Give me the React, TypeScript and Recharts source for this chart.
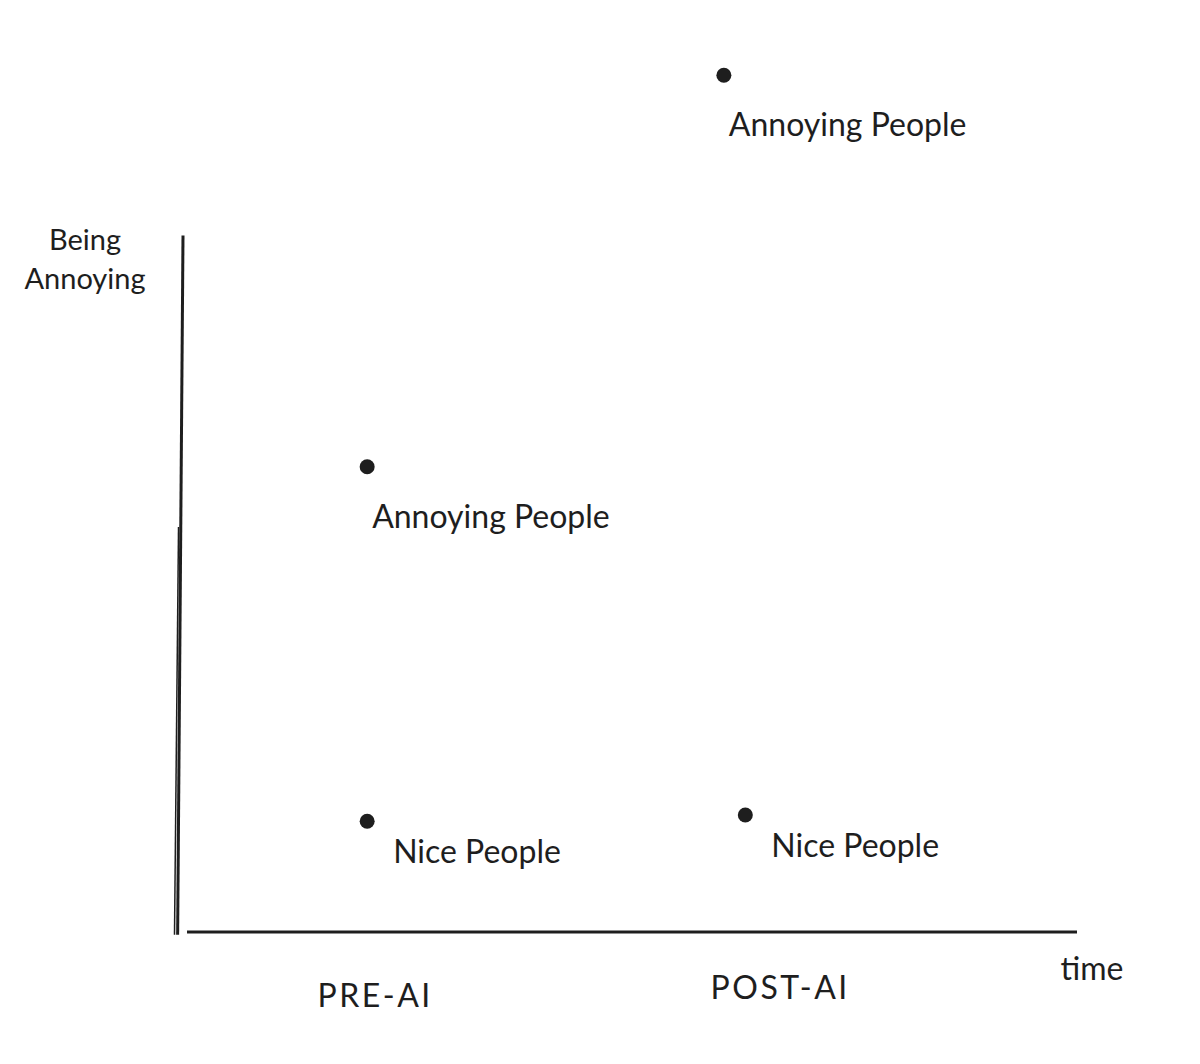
import React from "react";
import { ReferenceLine, Scatter, ScatterChart, XAxis, YAxis, LabelList } from "recharts";

// x: time (0-100), y: how annoying (0-100)
const phases = ["PRE-AI", "POST-AI"];
const phaseTickX = [21.5, 66.8];
const annoyingPeople = [
  { phase: "PRE-AI", x: 20.6, y: 51.7 },
  { phase: "POST-AI", x: 60.5, y: 95.2 },
];
const nicePeople = [
  { phase: "PRE-AI", x: 20.6, y: 12.3 },
  { phase: "POST-AI", x: 62.9, y: 13.0 },
];
const yAxisTop = 77.4;

const INK = "#1e1e1e";
const FONT = "Lato, 'Open Sans', sans-serif";

const Dot = (props: any) => <circle cx={props.cx} cy={props.cy} r={7.5} fill={INK} />;

const makeLabel = (text: string, dx: number, dy: number) => (props: any) => {
  const { x, y, width, height } = props;
  const cx = Number(x) + Number(width || 0) / 2;
  const cy = Number(y) + Number(height || 0) / 2;
  return (
    <text x={cx + dx} y={cy + dy} fill={INK} fontFamily={FONT} fontSize={32} dominantBaseline="middle">
      {text}
    </text>
  );
};

const PhaseTick = (props: any) => {
  const { x, y, payload } = props;
  const i = phaseTickX.indexOf(payload.value);
  return (
    <text
      x={x}
      y={y + 67 - (i === 1 ? 8 : 0)}
      textAnchor="middle"
      fill={INK}
      fontFamily={FONT}
      fontSize={32}
      letterSpacing={2.5}
    >
      {phases[i]}
    </text>
  );
};

const App = () => {
  return (
    <div style={{ position: "absolute", left: 0, top: 0, background: "#fff" }}>
      <ScatterChart width={1200} height={1064} margin={{ top: 32, right: 123, left: 0, bottom: 62 }}>
        <XAxis
          type="number"
          dataKey="x"
          domain={[0, 100]}
          ticks={phaseTickX}
          tick={<PhaseTick />}
          tickLine={false}
          axisLine={false}
          height={70}
          label={(p: any) => {
            const vb = p.viewBox;
            return (
              <text x={vb.x + vb.width + 15} y={vb.y + 48} textAnchor="middle" fill={INK} fontFamily={FONT} fontSize={32}>
                time
              </text>
            );
          }}
        />
        <YAxis
          type="number"
          dataKey="y"
          domain={[0, 100]}
          width={183}
          tick={false}
          tickLine={false}
          axisLine={false}
          label={(p: any) => {
            const vb = p.viewBox;
            return (
              <text x={vb.x + 85} fill={INK} fontFamily={FONT} fontSize={29} textAnchor="middle">
                <tspan x={vb.x + 85} y={vb.y + 218}>Being</tspan>
                <tspan x={vb.x + 85} y={vb.y + 257}>Annoying</tspan>
              </text>
            );
          }}
        />
        <ReferenceLine
          segment={[{ x: 0, y: yAxisTop }, { x: -0.6, y: -0.3 }]}
          stroke={INK}
          strokeWidth={3}
          ifOverflow="visible"
        />
        <ReferenceLine
          segment={[{ x: -0.95, y: -0.3 }, { x: -0.5, y: 45 }]}
          stroke={INK}
          strokeWidth={1.5}
          ifOverflow="visible"
        />
        <ReferenceLine
          segment={[{ x: 0.45, y: 0 }, { x: 100, y: 0 }]}
          stroke={INK}
          strokeWidth={3}
          ifOverflow="visible"
        />
        <Scatter name="Annoying People" data={annoyingPeople} fill={INK} shape={Dot} isAnimationActive={false}>
          <LabelList dataKey="phase" content={makeLabel("Annoying People", 5, 53)} />
        </Scatter>
        <Scatter name="Nice People" data={nicePeople} fill={INK} shape={Dot} isAnimationActive={false}>
          <LabelList dataKey="phase" content={makeLabel("Nice People", 26, 34)} />
        </Scatter>
      </ScatterChart>
    </div>
  );
};

export default App;
